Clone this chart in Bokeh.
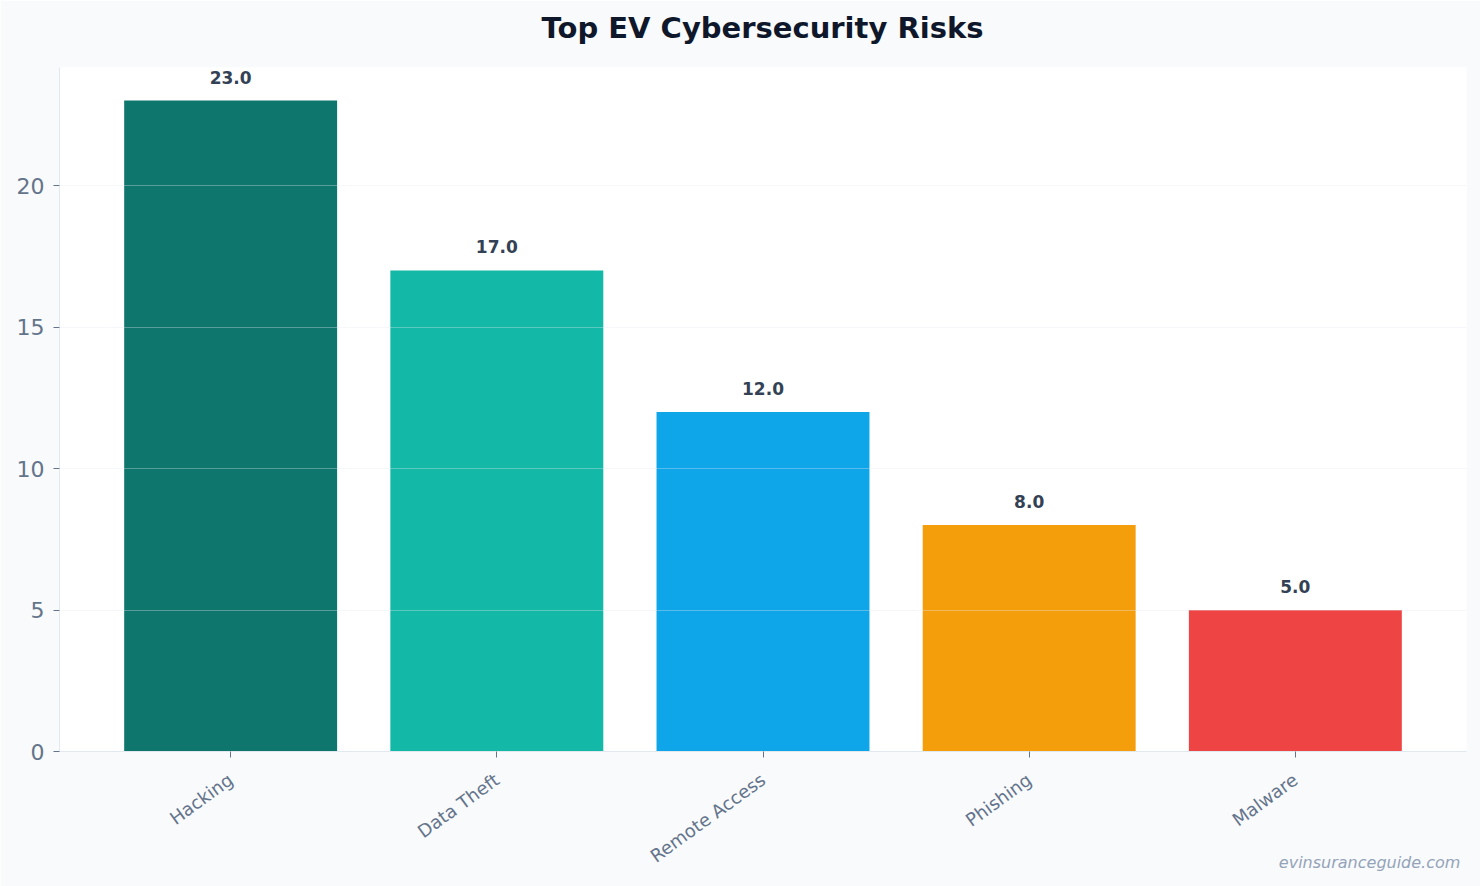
import math
from bokeh.plotting import figure
from bokeh.models import ColumnDataSource, Range1d, FixedTicker, Label, LabelSet
from bokeh.core.properties import value
from bokeh.embed import file_html
from bokeh.resources import INLINE

categories = ["Hacking", "Data Theft", "Remote Access", "Phishing", "Malware"]
values = [23.0, 17.0, 12.0, 8.0, 5.0]
colors = ["#0f766e", "#14b8a6", "#0ea5e9", "#f59e0b", "#ef4444"]
y_ticks = [0, 5, 10, 15, 20]

xs = list(range(len(categories)))
src = ColumnDataSource(dict(x=xs, top=values, color=colors,
                            label=[f"{v:.1f}" for v in values]))

FONT = "DejaVu Sans"
X_PAD = 0.643
Y_MAX = 24.17
p = figure(width=1480, height=886, output_backend="svg", toolbar_location=None,
           x_range=Range1d(-X_PAD, len(categories) - 1 + X_PAD),
           y_range=Range1d(0, Y_MAX),
           min_border_left=59, min_border_right=14, min_border_top=67,
           min_border_bottom=135)
p.background_fill_color = "white"
p.border_fill_color = "#f8fafc"
p.outline_line_color = None

title = Label(x=703, y=40, x_units="screen", y_units="screen",
              text="Top EV Cybersecurity Risks", text_align="center",
              text_baseline="middle", text_font=FONT, text_font_size="29px",
              text_font_style="bold", text_color="#0f172a")
p.add_layout(title, "above")

p.vbar(x="x", top="top", width=0.8, color="color", source=src, line_color=None)

labels = LabelSet(x="x", y="top", text="label", source=src, text_align="center",
                  text_baseline="alphabetic", y_offset=17, text_font=value(FONT),
                  text_font_size="17px", text_font_style="bold", text_color="#334155")
p.add_layout(labels)

p.xgrid.grid_line_color = None
p.ygrid.ticker = FixedTicker(ticks=y_ticks)
p.ygrid.grid_line_color = "#e2e8f0"
p.ygrid.grid_line_alpha = 0.35
p.ygrid.level = "overlay"

p.yaxis.ticker = FixedTicker(ticks=y_ticks)
p.yaxis.axis_line_color = "#e2e8f0"
p.yaxis.major_tick_line_color = "#64748b"
p.yaxis.major_tick_out = 6
p.yaxis.major_tick_in = 0
p.yaxis.minor_tick_line_color = None
p.yaxis.major_label_text_font = FONT
p.yaxis.major_label_text_font_size = "22px"
p.yaxis.major_label_text_color = "#64748b"
p.yaxis.major_label_standoff = 9

p.xaxis.ticker = FixedTicker(ticks=xs)
p.xaxis.major_label_overrides = {i: c for i, c in enumerate(categories)}
p.xaxis.axis_line_color = "#e2e8f0"
p.xaxis.major_tick_line_color = "#64748b"
p.xaxis.major_tick_out = 6
p.xaxis.major_tick_in = 0
p.xaxis.minor_tick_line_color = None
p.xaxis.major_label_orientation = math.radians(36)
p.xaxis.major_label_text_font = FONT
p.xaxis.major_label_text_font_size = "18px"
p.xaxis.major_label_text_color = "#64748b"
p.xaxis.major_label_standoff = 20

# watermark placed via the plot's scales (bottom-right, below the axis labels)
wm = Label(x=4.62, y=-3.92, x_units="data", y_units="data",
           text="evinsuranceguide.com", text_align="right", text_baseline="middle",
           text_font=FONT, text_font_size="16px", text_font_style="italic",
           text_color="#94a3b8")
p.add_layout(wm, "above")

open("out.html", "w").write(file_html(p, INLINE))
